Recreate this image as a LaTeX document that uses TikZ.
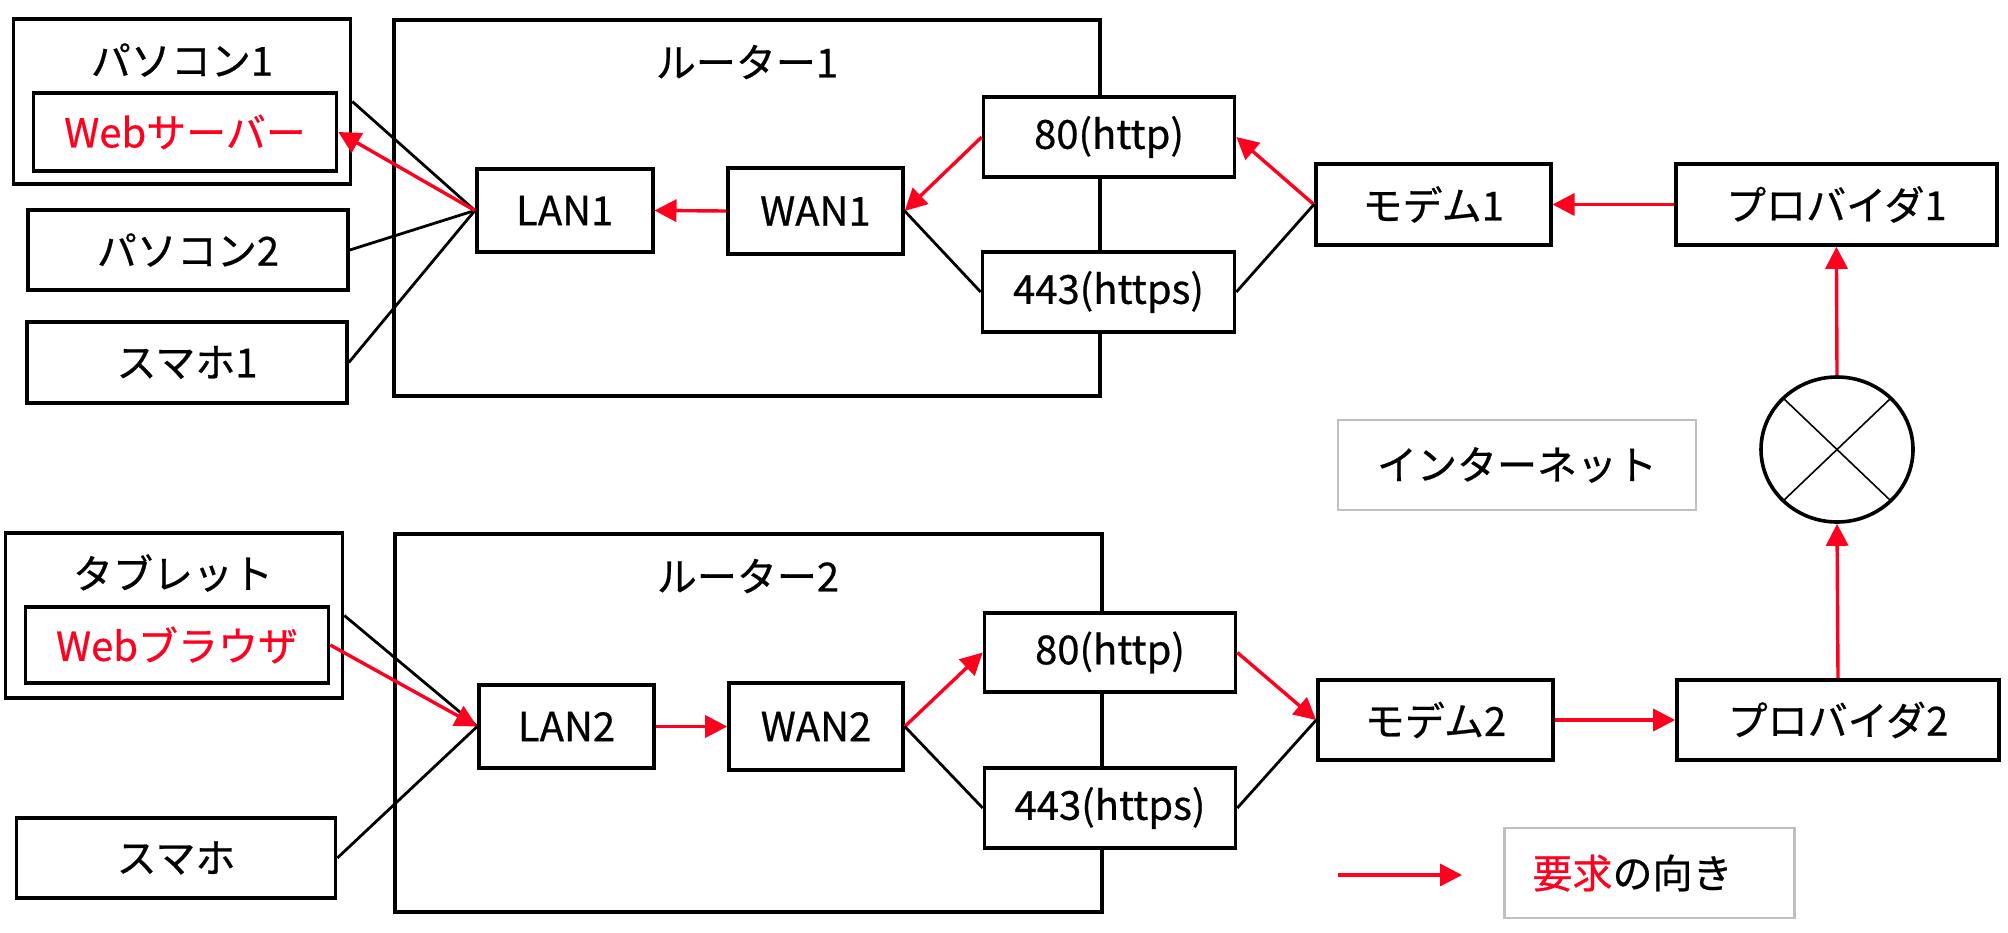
\documentclass[tikz,border=0pt]{standalone}
\usepackage{fontspec}
\setmainfont{Noto Sans CJK JP}[FakeBold=0.6]
\usepackage{tikz}
\definecolor{anfragerot}{RGB}{255,0,30}
\usetikzlibrary{arrows.meta, shapes.geometric}

\begin{document}
\begin{tikzpicture}[x=0.5pt, y=-0.5pt,
		>={Triangle[length=11pt,width=11pt]},   %Voreinstellung für Pfeilspitzen
		font=\fontsize{20pt}{24pt}\selectfont,
		box/.style n args={2}{draw, line width=1.8pt, fill=white, inner sep=0pt, minimum width=#1*0.5pt, minimum height=#2*0.5pt},
		graubox/.style n args={2}{box={#1}{#2}, draw=black!25, line width=1.2pt},
		leitung/.style={line width=1.4pt},
		anfrage/.style={->, anfragerot, line width=1.7pt},
		netz/.style={draw, ellipse, line width=1.8pt, inner sep=0pt, minimum width=76pt, minimum height=72.5pt,
			path picture={\draw[line width=0.8pt] (path picture bounding box.north west) -- (path picture bounding box.south east)
				(path picture bounding box.north east) -- (path picture bounding box.south west);}}]
		\useasboundingbox (0,0) rectangle (2008,932); %Bildbereich
		%Router zeichnen
		\node[box={706}{376}] (r1) at (746.7,208) {};
		\node (r1t) at (747,62) {ルーター1};
		\node[box={707}{378}] (r2) at (748.5,723) {};
		\node (r2t) at (748,576) {ルーター2};
		%Geräte oben
		\node[box={337}{165}] (pc1) at (182,101.5) {};
		\node (pc1t) at (182,60) {パソコン1};
		\node[box={303}{78}, text=anfragerot] (ws) at (185,132) {Webサーバー};
		\node[box={320}{80}] (pc2) at (188,250) {パソコン2};
		\node[box={320}{81}] (sp1) at (187,362.5) {スマホ1};
		\node[box={176}{83}] (lan1) at (564.7,210.5) {LAN1};
		\node[box={175}{86}] (wan1) at (815.4,211) {WAN1};
		\node[box={251}{80}] (http1) at (1109,137) {80(http)};
		\node[box={252}{80}] (https1) at (1108.5,292) {443(https)};
		\node[box={235}{81}] (mod1) at (1433.2,204.5) {モデム1};
		\node[box={321}{81}] (prov1) at (1836.4,204.5) {プロバイダ1};
		%Internet
		\node[netz] (inet) at (1837,449.5) {};
		\node[graubox={358}{90}] (inettxt) at (1517,465) {インターネット};
		%Geräte unten
		\node[box={337}{165}] (tab) at (174,615.5) {};
		\node (tabt) at (173,573) {タブレット};
		\node[box={303}{76}, text=anfragerot] (wb) at (177,645) {Webブラウザ};
		\node[box={319}{80}] (sp) at (176,858) {スマホ};
		\node[box={175}{83}] (lan2) at (566.5,726.5) {LAN2};
		\node[box={174}{87}] (wan2) at (816,726.5) {WAN2};
		\node[box={251}{79}] (http2) at (1110,652.5) {80(http)};
		\node[box={251}{80}] (https2) at (1110,808) {443(https)};
		\node[box={235}{80}] (mod2) at (1435.5,720) {モデム2};
		\node[box={322}{80}] (prov2) at (1838,720) {プロバイダ2};
		%Legende
		\coordinate (lg1) at (1338,875);
		\coordinate (lg2) at (1462,875);
		\node[graubox={290}{90}, inner xsep=14pt, text width=117pt, align=left] (lgtxt) at (1649.5,873) {{\color{anfragerot}要求}の向き};
		%Verbindungen oben
		\draw[leitung] (pc1.east) -- (lan1.west);
		\draw[leitung] (pc2.east) -- (lan1.west);
		\draw[leitung] (sp1.east) -- (lan1.west);
		\draw[anfrage] (lan1.west) -- (ws.east);
		\draw[anfrage] (wan1.west) -- (lan1.east);
		\draw[anfrage] (http1.west) -- (wan1.east);
		\draw[leitung] (wan1.east) -- (https1.west);
		\draw[anfrage] (mod1.west) -- (http1.east);
		\draw[leitung] (mod1.west) -- (https1.east);
		\draw[anfrage] (prov1.west) -- (mod1.east);
		\draw[anfrage] (inet.north) -- (prov1.south);
		%Verbindungen unten
		\draw[leitung] (tab.east) -- (lan2.west);
		\draw[leitung] (sp.east) -- (lan2.west);
		\draw[anfrage] (wb.east) -- (lan2.west);
		\draw[anfrage] (lan2.east) -- (wan2.west);
		\draw[anfrage] (wan2.east) -- (http2.west);
		\draw[leitung] (wan2.east) -- (https2.west);
		\draw[anfrage] (http2.east) -- (mod2.west);
		\draw[leitung] (mod2.west) -- (https2.east);
		\draw[anfrage] (mod2.east) -- (prov2.west);
		\draw[anfrage] (prov2.north) -- (inet.south);
		\draw[anfrage] (lg1) -- (lg2);
	\end{tikzpicture}
\end{document}
